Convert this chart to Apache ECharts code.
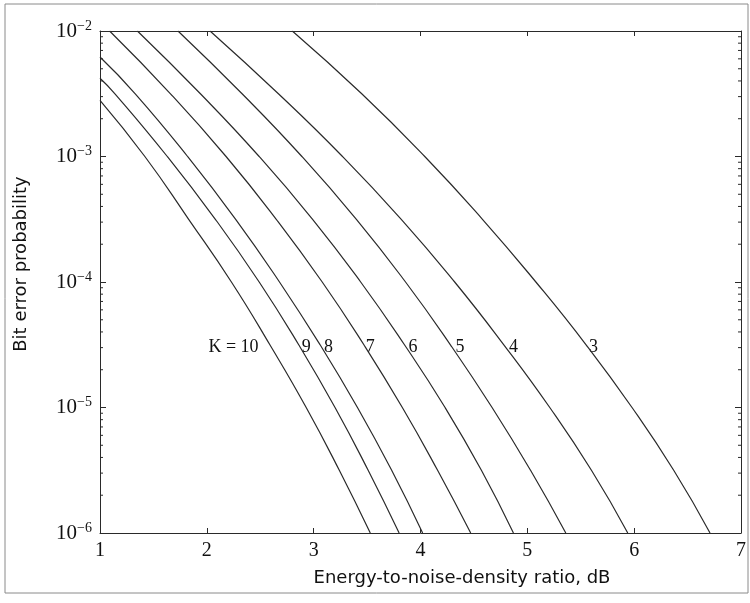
<!DOCTYPE html>
<html>
<head>
<meta charset="utf-8">
<script src="https://cdn.jsdelivr.net/npm/echarts@6/dist/echarts.min.js"></script>
<style>
  html, body { margin: 0; padding: 0; background: #fff; }
  #chart { width: 750px; height: 603px; }
</style>
</head>
<body>
<div id="chart"></div>
<script>
const pLevels = [1e-2, 3.16e-3, 1e-3, 3.16e-4, 1e-4, 3.16e-5, 1e-5, 3.16e-6, 1e-6];

// Eb/N0 (dB) of each curve at pLevels, null = curve not yet inside the plot
const ebK3  = [2.80, 3.45, 4.04, 4.58, 5.08, 5.55, 5.98, 6.37, 6.71];
const ebK4  = [2.03, 2.67, 3.27, 3.82, 4.32, 4.78, 5.21, 5.60, 5.94];
const ebK5  = [1.73, 2.33, 2.89, 3.40, 3.86, 4.28, 4.67, 5.03, 5.36];
const ebK6  = [1.35, 1.94, 2.49, 2.99, 3.44, 3.85, 4.23, 4.57, 4.87];
const ebK7  = [1.09, 1.66, 2.18, 2.65, 3.08, 3.47, 3.83, 4.16, 4.47];
const ebK8  = [null, 1.33, 1.82, 2.27, 2.68, 3.06, 3.41, 3.73, 4.02];
const ebK9  = [null, 1.14, 1.63, 2.08, 2.49, 2.86, 3.20, 3.51, 3.80];
const ebK10 = [null, null, 1.42, 1.83, 2.23, 2.59, 2.93, 3.24, 3.53];

// where the curves K=8,9,10 enter at the left edge (Eb/N0 = 1 dB)
const leftEntry = { 8: 6.2e-3, 9: 4.2e-3, 10: 2.8e-3 };

const curveK = [3, 4, 5, 6, 7, 8, 9, 10];
const curveEb = [ebK3, ebK4, ebK5, ebK6, ebK7, ebK8, ebK9, ebK10];

// curve labels
const labelText = ['K = 10', '9', '8', '7', '6', '5', '4', '3'];
const labelEb   = [2.25, 2.93, 3.14, 3.53, 3.93, 4.37, 4.87, 5.62];
const labelP    = 3.0e-5;

// y minor ticks 2..9 of each decade
const minorTicks = [];
for (let e = -6; e < -2; e++) {
  for (let m = 2; m <= 9; m++) minorTicks.push(m * Math.pow(10, e));
}

const lineColor = '#2a2a2a';
const serif = 'Liberation Serif';

const series = curveK.map(function (k, i) {
  const pts = [];
  if (leftEntry[k]) pts.push([1, leftEntry[k]]);
  curveEb[i].forEach(function (eb, j) {
    if (eb != null) pts.push([eb, pLevels[j]]);
  });
  return {
    name: 'K=' + k,
    type: 'line',
    data: pts,
    smooth: 0.5,
    symbol: 'none',
    lineStyle: { color: lineColor, width: 1.2 },
    silent: true
  };
});

series.push({
  type: 'scatter',
  symbolSize: 1,
  itemStyle: { color: 'rgba(0,0,0,0)' },
  data: labelText.map(function (t, i) { return [labelEb[i], labelP, t]; }),
  label: {
    show: true,
    position: 'inside',
    formatter: function (p) { return p.data[2]; },
    fontFamily: serif,
    fontSize: 18,
    color: '#111',
    textBorderWidth: 0,
    opacity: 1
  },
  silent: true
});

// minor ticks on both y edges
series.push({
  type: 'custom',
  data: minorTicks,
  renderItem: function (params, api) {
    const pt = api.coord([1, api.value(0)]);
    const cs = params.coordSys;
    const st = { stroke: lineColor, lineWidth: 1 };
    return {
      type: 'group',
      children: [
        { type: 'line', shape: { x1: cs.x, y1: pt[1], x2: cs.x + 3, y2: pt[1] }, style: st },
        { type: 'line', shape: { x1: cs.x + cs.width, y1: pt[1], x2: cs.x + cs.width - 3, y2: pt[1] }, style: st }
      ]
    };
  },
  encode: { y: 0 },
  silent: true,
  z: 5
});

const chart = echarts.init(document.getElementById('chart'));

const yLabel = {
  fontFamily: serif,
  color: '#111',
  margin: 8,
  formatter: function (v) {
    const e = Math.round(Math.log10(v));
    return '{b|10}{s|\u2212' + (-e) + '}';
  },
  rich: {
    b: { fontFamily: serif, fontSize: 21, lineHeight: 24, color: '#111' },
    s: { fontFamily: serif, fontSize: 14, verticalAlign: 'top', lineHeight: 24, color: '#111' }
  }
};

chart.setOption({
  animation: false,
  backgroundColor: '#fff',
  grid: { left: 100, right: 9, top: 31, bottom: 70 },
  xAxis: [
    {
      type: 'value', min: 1, max: 7, interval: 1,
      axisLine: { lineStyle: { color: lineColor } },
      axisTick: { inside: true, length: 5, lineStyle: { color: lineColor } },
      axisLabel: { fontFamily: serif, fontSize: 20, color: '#111', margin: 8 },
      splitLine: { show: false }
    },
    {
      type: 'value', min: 1, max: 7, interval: 1, position: 'top',
      axisLine: { lineStyle: { color: lineColor } },
      axisTick: { inside: true, length: 5, lineStyle: { color: lineColor } },
      axisLabel: { show: false },
      splitLine: { show: false }
    }
  ],
  yAxis: [
    {
      type: 'log', logBase: 10, min: 1e-6, max: 1e-2,
      axisLine: { show: true, lineStyle: { color: lineColor } },
      axisTick: { show: true, inside: true, length: 6, lineStyle: { color: lineColor } },
      axisLabel: yLabel,
      splitLine: { show: false }
    },
    {
      type: 'log', logBase: 10, min: 1e-6, max: 1e-2, position: 'right',
      axisLine: { show: true, lineStyle: { color: lineColor } },
      axisTick: { show: true, inside: true, length: 6, lineStyle: { color: lineColor } },
      axisLabel: { show: false },
      splitLine: { show: false }
    }
  ],
  graphic: [
    {
      type: 'rect',
      shape: { x: 5, y: 4, width: 743, height: 589 },
      style: { fill: 'none', stroke: '#8a8a8a', lineWidth: 1 }
    },
    {
      type: 'text',
      x: 462, y: 578,
      style: {
        text: 'Energy-to-noise-density ratio, dB',
        font: '18px "DejaVu Sans"',
        fill: '#111',
        align: 'center',
        verticalAlign: 'middle'
      }
    },
    {
      type: 'text',
      x: 21, y: 264,
      rotation: Math.PI / 2,
      style: {
        text: 'Bit error probability',
        font: '18px "DejaVu Sans"',
        fill: '#111',
        align: 'center',
        verticalAlign: 'middle'
      }
    }
  ],
  series: series
});
</script>
</body>
</html>
